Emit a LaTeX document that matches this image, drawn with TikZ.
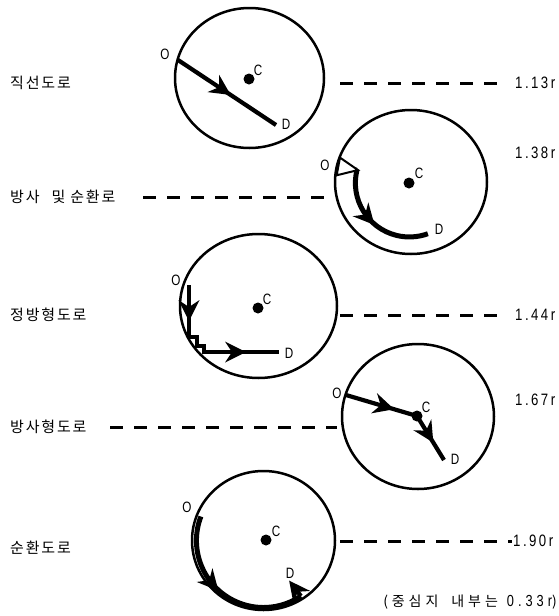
\documentclass[tikz,border=0pt]{standalone}
\usepackage{fontspec}
\usetikzlibrary{decorations.markings}
\newfontfamily\krfont[LetterSpace=12]{Noto Sans CJK KR}
\newfontfamily\krnote[LetterSpace=28]{Noto Sans CJK KR}
\newfontfamily\lblfont[FakeStretch=0.78]{Liberation Sans}
\newfontfamily\numfont[FakeStretch=0.8,LetterSpace=15]{Liberation Sans}
\newfontfamily\numnote[FakeStretch=0.8,LetterSpace=25]{Liberation Sans}
\newcommand\barbhead{\fill (8pt,0pt) -- (-13pt,10.5pt) -- (-6pt,0pt) -- (-13pt,-10.5pt) -- cycle;}
\begin{document}
\begin{tikzpicture}[x=1pt,y=-1pt,
  ring/.style={line width=2.5pt},
  route/.style={line width=4.2pt},
  dashline/.style={line width=3pt,dash pattern=on 13pt off 11pt},
  dotc/.style={circle,fill=black,inner sep=0pt,minimum size=11pt},
  ptlbl/.style={font=\lblfont\fontsize{15}{15}\selectfont,inner sep=0pt},
  krlbl/.style={font=\krfont\fontsize{15}{15}\selectfont,inner sep=0pt,anchor=west},
  numlbl/.style={font=\numfont\fontsize{16.5}{16.5}\selectfont,inner sep=0pt,anchor=west},
  mid/.style={postaction={decorate},decoration={markings,mark=at position #1 with {\barbhead}}},
  tipend/.style={postaction={decorate},decoration={markings,mark=at position 1 with {\barbhead}}},
  opentip/.style={postaction={decorate},decoration={markings,mark=at position 1 with
     {\filldraw[fill=white,line width=2pt,line join=miter] (1pt,0pt) -- (-19pt,9pt) -- (-19pt,-9pt) -- cycle;}}}
]
\useasboundingbox (0,0) rectangle (559,616);

% ---------- 1: straight road ----------
\draw[ring] (249.5,78) ellipse [x radius=74.5, y radius=70];
\node[dotc] (C1) at (249,79) {};
\node[ptlbl] (lC1) at (258,70) {C};
\coordinate (O1) at (178,60);
\coordinate (D1) at (276,125);
\node[ptlbl] (lO1) at (165,54) {O};
\node[ptlbl] (lD1) at (286,124) {D};
\draw[route,mid=0.47] (O1) -- (D1);
\coordinate (a1) at (340,83); \coordinate (b1) at (504,83);
\draw[dashline] (a1) -- (b1);
\node[krlbl] (t1) at (10,83) {직선도로};
\node[numlbl] (n1) at (515,83) {1.13r};

% ---------- 2: radial + ring ----------
\draw[ring] (411,182) ellipse [x radius=76, y radius=72];
\node[dotc] (C2) at (409,183) {};
\node[ptlbl] (lC2) at (419,173) {C};
\node[ptlbl] (lO2) at (325,165) {O};
\node[ptlbl] (lD2) at (439,229) {D};
\coordinate (O2) at (336,166);
\coordinate (A2) at (357,169.9);
\draw[route,line width=5pt,mid=0.45] (A2) arc[start angle=194,end angle=70,radius=54] coordinate (D2);
\draw[route,opentip] (O2) -- (A2);
\coordinate (a2) at (143,197); \coordinate (b2) at (331,197);
\draw[dashline] (a2) -- (b2);
\node[krlbl] (t2) at (10,197) {방사\hspace{12pt}및\hspace{5pt}순환로};
\node[numlbl] (n2) at (515,153) {1.38r};

% ---------- 3: grid ----------
\draw[ring] (258.5,306) ellipse [x radius=78.5, y radius=72];
\node[dotc] (C3) at (258,308) {};
\node[ptlbl] (lC3) at (267,299) {C};
\node[ptlbl] (lO3) at (176,280) {O};
\node[ptlbl] (lD3) at (289,353) {D};
\coordinate (O3) at (189,285);
\coordinate (D3) at (279,352);
\draw[route,line join=miter,
  postaction={decorate},decoration={markings,
   mark=at position 28pt with {\barbhead},
   mark=at position 116pt with {\barbhead}}]
  (O3) -- (189,337) -- (197,337) -- (197,346) -- (204,346) -- (204,352) -- (D3);
\coordinate (a3) at (340,315); \coordinate (b3) at (504,315);
\draw[dashline] (a3) -- (b3);
\node[krlbl] (t3) at (10,315) {정방형도로};
\node[numlbl] (n3) at (515,315) {1.44r};

% ---------- 4: radial ----------
\draw[ring] (418,416.5) ellipse [x radius=76, y radius=72.5];
\node[dotc] (C4) at (417,416) {};
\node[ptlbl] (lC4) at (426,407) {C};
\node[ptlbl] (lO4) at (337,393) {O};
\node[ptlbl] (lD4) at (455,459) {D};
\coordinate (O4) at (346,395);
\coordinate (D4) at (444,460);
\draw[route,mid=0.57] (O4) -- (C4.center);
\draw[route,mid=0.45] (C4.center) -- (D4);
\coordinate (a4) at (110,427); \coordinate (b4) at (337,427);
\draw[dashline] (a4) -- (b4);
\node[krlbl] (t4) at (10,427) {방사형도로};
\node[numlbl] (n4) at (515,400) {1.67r};

% ---------- 5: ring ----------
\draw[ring] (263.5,540.5) ellipse [x radius=71.5, y radius=69.5];
\node[dotc] (C5) at (266,540) {};
\node[ptlbl] (lC5) at (276,531) {C};
\node[ptlbl] (lO5) at (187,507) {O};
\node[ptlbl] (lD5) at (290,573) {D};
\coordinate (O5) at (200.9,516.5);
\draw[route,line width=5pt,mid=0.43] (O5) arc[start angle=201,end angle=56,radius=67] coordinate (E5);
\coordinate (D5) at (294,587);
\draw[route,tipend] (E5) -- (D5);
\coordinate (a5) at (340,541); \coordinate (b5) at (512,541);
\draw[dashline] (a5) -- (b5);
\node[krlbl] (t5) at (10,548) {순환도로};
\node[numlbl] (n5) at (513,541) {1.90r};

\node[inner sep=0pt,anchor=east] (note) at (557,602)
  {\krnote\fontsize{14}{15}\selectfont (중심지\hspace{13pt}내부는\hspace{9pt}{\numnote\fontsize{16}{16}\selectfont 0.33r})};
\end{tikzpicture}
\end{document}
